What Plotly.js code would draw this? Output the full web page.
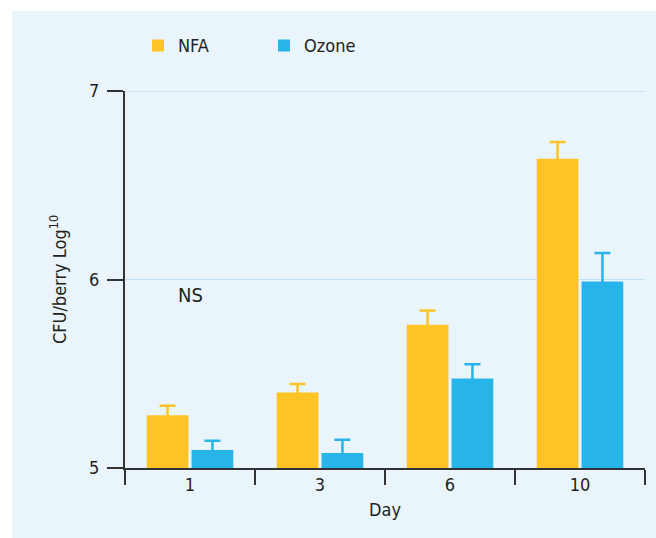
<!DOCTYPE html>
<html>
<head>
<meta charset="utf-8">
<script src="https://cdn.plot.ly/plotly-3.0.1.min.js"></script>
<style>
  html, body { margin: 0; padding: 0; background: #ffffff; width: 656px; height: 538px; overflow: hidden; }
  #chart { position: absolute; left: 12px; top: 11px; width: 644px; height: 527px; }
</style>
</head>
<body>
<div id="chart"></div>
<script>
// Data
const days = ['1', '3', '6', '10'];
const nfaValues = [5.28, 5.40, 5.76, 6.64];
const nfaErrors = [0.05, 0.045, 0.075, 0.09];
const ozoneValues = [5.095, 5.08, 5.475, 5.99];
const ozoneErrors = [0.05, 0.07, 0.075, 0.15];
const seriesNames = ['NFA', 'Ozone'];
const yTicks = [5, 6, 7];

const FONT = '"DejaVu Sans Condensed", "Liberation Sans Narrow", "DejaVu Sans", sans-serif';
const TEXT = '#231f20';
const NFA_COLOR = '#fec425';
const OZONE_COLOR = '#27b5e9';
const GRID = '#c3e1f4';

const traces = [
  {
    type: 'bar', name: seriesNames[0], x: days, y: nfaValues,
    marker: { color: NFA_COLOR, line: { width: 0 } },
    error_y: { type: 'data', symmetric: true, array: nfaErrors,
               color: NFA_COLOR, thickness: 2.5, width: 8 },
    hoverinfo: 'x+y'
  },
  {
    type: 'bar', name: seriesNames[1], x: days, y: ozoneValues,
    marker: { color: OZONE_COLOR, line: { width: 0 } },
    error_y: { type: 'data', symmetric: true, array: ozoneErrors,
               color: OZONE_COLOR, thickness: 2.5, width: 8 },
    hoverinfo: 'x+y'
  }
];

const layout = {
  width: 644, height: 527,
  margin: { l: 113, r: 11, t: 80, b: 70, pad: 0, autoexpand: false },
  paper_bgcolor: '#e9f4fb',
  plot_bgcolor: 'rgba(0,0,0,0)',
  font: { family: FONT, size: 18, color: TEXT },
  barmode: 'group',
  bargap: 0.31,
  bargroupgap: 0.07,
  showlegend: true,
  legend: {
    orientation: 'h', x: 0.025, xanchor: 'left', y: 1.12, yanchor: 'middle',
    bgcolor: 'rgba(0,0,0,0)', font: { family: FONT, size: 18, color: TEXT },
    entrywidth: 81, entrywidthmode: 'pixels', traceorder: 'normal'
  },
  xaxis: {
    type: 'category', range: [-0.5, 3.5],
    showline: true, linecolor: '#333333', linewidth: 2,
    ticks: 'outside', tickson: 'boundaries', ticklen: 15, tickwidth: 2, tickcolor: '#333333',
    ticklabelstandoff: -1,
    tickfont: { family: FONT, size: 18, color: TEXT },
    showgrid: false, zeroline: false,
    title: { text: 'Day', font: { family: FONT, size: 18, color: TEXT }, standoff: 10 }
  },
  yaxis: {
    range: [5, 7], tickvals: yTicks, ticktext: yTicks.map(String),
    showline: true, linecolor: '#333333', linewidth: 2,
    ticks: 'outside', ticklen: 16, tickwidth: 2, tickcolor: '#333333',
    ticklabelstandoff: 4,
    tickfont: { family: FONT, size: 18, color: TEXT },
    showgrid: true, gridcolor: GRID, gridwidth: 1.5,
    zeroline: false,
    title: { text: 'CFU/berry Log<sup>10</sup>', font: { family: FONT, size: 18, color: TEXT }, standoff: 18 }
  },
  shapes: [
    // top gridline (Plotly omits the gridline at the range edge)
    { type: 'line', xref: 'paper', x0: 0, x1: 1, yref: 'y', y0: yTicks[yTicks.length - 1], y1: yTicks[yTicks.length - 1],
      line: { color: GRID, width: 1.5 }, layer: 'below' }
  ],
  annotations: [
    { x: 0.125, y: 5.92, xref: 'paper', yref: 'y', xanchor: 'center', yanchor: 'middle',
      text: 'NS', showarrow: false, font: { family: FONT, size: 20, color: TEXT } }
  ]
};

Plotly.newPlot('chart', traces, layout, { staticPlot: true, displayModeBar: false });
</script>
</body>
</html>
